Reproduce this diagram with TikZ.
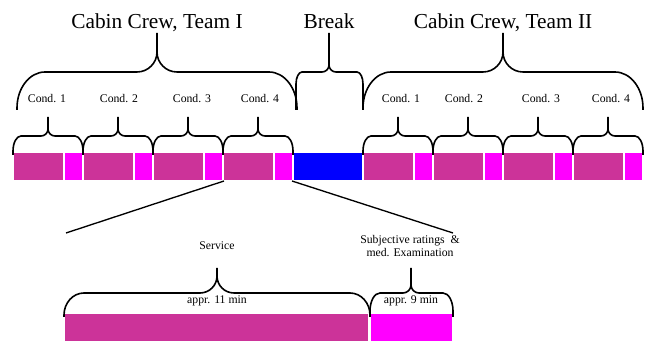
\documentclass[tikz,border=0pt]{standalone}
\usepackage{fontspec}
\setmainfont{Liberation Serif}
\definecolor{service}{RGB}{204,51,153}
\definecolor{rating}{RGB}{255,0,255}
\definecolor{pause}{RGB}{0,0,255}
\tikzstyle{brace line}=[line width=1.2pt, line join=round]
\tikzstyle{zoom line}=[line width=1pt]
\tikzstyle{title}=[font=\fontsize{16}{19}\selectfont, anchor=base, inner sep=0pt]
\tikzstyle{cond text}=[font=\fontsize{8.8}{10}\selectfont, anchor=base, inner sep=0pt]
% brace: x left, x tip, x right, y ends, y middle, y tip, end radius x, end radius y, tip radius
\newcommand{\curlybrace}[9]{%
  \draw[brace line] (#1,#4) -- (#1,#5+#8)
    .. controls (#1,#5+0.448*#8) and (#1+0.448*#7,#5) .. (#1+#7,#5)
    -- (#2-#9,#5) .. controls (#2-0.448*#9,#5) and (#2,#5-0.448*#9) .. (#2,#5-#9) -- (#2,#6)
    (#2,#5-#9) .. controls (#2,#5-0.448*#9) and (#2+0.448*#9,#5) .. (#2+#9,#5)
    -- (#3-#7,#5) .. controls (#3-0.448*#7,#5) and (#3,#5+0.448*#8) .. (#3,#5+#8) -- (#3,#4);}

\begin{document}
\begin{tikzpicture}[x=0.75pt,y=-0.75pt]
\useasboundingbox (0,0) rectangle (650,341);
% top bar with the conditions
\foreach \x in {14,84,154,224,364,434,504,574}{
  \fill[service] (\x,153) rectangle (\x+49,180);
  \fill[rating] (\x+51,153) rectangle (\x+68,180);
  \curlybrace{\x-1}{\x+34}{\x+69}{155}{136}{117}{8}{15}{7}
}
\fill[pause] (294,153) rectangle (362,180);
\node[title] (team1) at (157,29) {Cabin Crew, Team I};
\node[title] (break) at (329,29) {Break};
\node[title] (team2) at (503,29) {Cabin Crew, Team II};
\foreach \x/\n in {47/1,119/2,192/3,260/4}
  \node[cond text] (cond1-\n) at (\x,103) {Cond. \n};
\foreach \x/\n in {401/1,464/2,541/3,611/4}
  \node[cond text] (cond2-\n) at (\x,103) {Cond. \n};
\curlybrace{17}{157}{297}{110}{72}{33}{28}{36}{20}
\curlybrace{296}{329}{363}{110}{72}{33}{6}{12}{7}
\curlybrace{363}{503}{643}{110}{72}{33}{28}{36}{20}
% zoom into one condition
\coordinate (zoom left) at (224,181);
\coordinate (zoom right) at (292,181);
\coordinate (detail left) at (66,233);
\coordinate (detail right) at (453,233);
\draw[zoom line] (zoom left) -- (detail left);
\draw[zoom line] (zoom right) -- (detail right);
\fill[service] (65,314) rectangle (368,341);
\fill[rating] (371,314) rectangle (452,341);
\node[cond text] (service) at (217,250) {Service};
\node[cond text, align=center, anchor=center] (ratings) at (410,246) {Subjective ratings \ \&\\med. Examination};
\node[cond text] (time1) at (217,304) {appr. 11 min};
\node[cond text] (time2) at (411,304) {appr. 9 min};
\curlybrace{64}{217}{370}{317}{293}{268}{20}{22}{17}
\curlybrace{370}{411}{453}{317}{293}{268}{10}{18}{8}
\end{tikzpicture}
\end{document}
